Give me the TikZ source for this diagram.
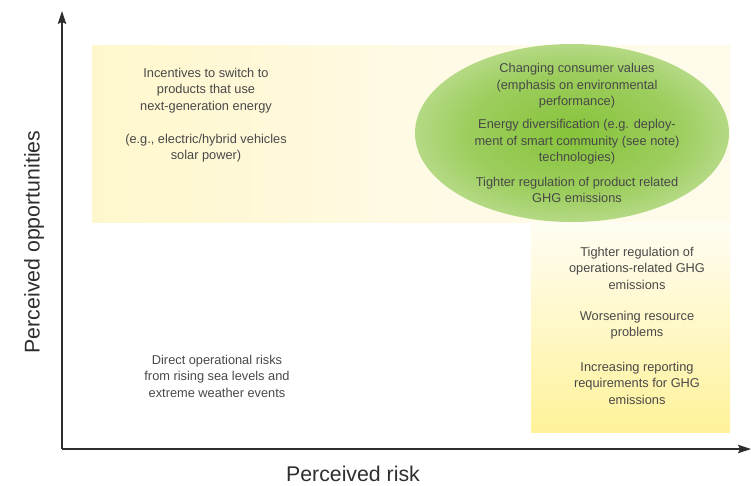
\documentclass[tikz,border=0pt]{standalone}
\usepackage{fontspec}
\setmainfont{Liberation Sans}
\usetikzlibrary{arrows.meta}

\definecolor{txtgray}{HTML}{484848}
\definecolor{axisgray}{HTML}{2E2E2E}
\definecolor{bandyellow}{HTML}{FFF29A}
\definecolor{bandmid}{HTML}{FFF7CC}
\definecolor{bandlight}{HTML}{FFFAE4}
\definecolor{bandpale}{HTML}{FFFDF3}
\definecolor{ellcore}{HTML}{86C33A}
\definecolor{ellinner}{HTML}{9DCE5E}
\definecolor{ellmid}{HTML}{C9E3A6}
\definecolor{ellrim}{HTML}{F7FAF0}

% soft green fill for the overlap ellipse
\pgfdeclareradialshading{ellgreen}{\pgfpoint{0bp}{0bp}}{%
  color(0bp)=(ellcore); color(17bp)=(ellinner); color(32bp)=(ellmid); color(50bp)=(ellrim)}
% yellow fading out to the right
\pgfdeclarehorizontalshading{bandfade}{100bp}{%
  color(0bp)=(bandyellow); color(25bp)=(bandmid); color(50bp)=(bandlight); color(100bp)=(bandpale)}

\tikzset{
  lbl/.style={font=\fontsize{12.8}{16.5}\selectfont, text=txtgray, align=center, inner sep=0pt},
  axislbl/.style={font=\fontsize{21.3}{24}\selectfont, text=axisgray, inner sep=0pt},
  axisline/.style={draw=axisgray, line width=1.2pt, -{Stealth[length=13pt,width=8.5pt,inset=2pt]}}
}

\begin{document}
\begin{tikzpicture}[x=1pt,y=-1pt]
\useasboundingbox (0,0) rectangle (751,485);

% opportunity band (horizontal) and risk band (vertical)
\shade[shading=bandfade] (92,45) rectangle (730,222);
\shade[top color=bandpale, bottom color=bandyellow] (531,222) rectangle (730,432);

% overlap region
\shade[shading=ellgreen] (572,133) ellipse [x radius=157, y radius=89];

% axes
\coordinate (origin) at (62,449);
\coordinate (ytip) at (62,11);
\coordinate (xtip) at (751,449);
\draw[axisline] (origin) -- (ytip);
\draw[axisline] (origin) -- (xtip);

\node[axislbl, rotate=90] (ylab) at (34,242) {Perceived opportunities};
\node[axislbl] (xlab) at (353,474) {Perceived risk};

% quadrant texts
\node[lbl] (incent) at (206,115) {Incentives to switch to\\products that use\\next-generation energy\\[16.5pt](e.g., electric/hybrid vehicles\\solar power)};

\node[lbl] (consumer) at (577,86) {Changing consumer values\\(emphasis on environmental\\performance)};
\node[lbl] (diversify) at (577,142) {Energy diversification (e.g. deploy-\\ment of smart community (see note)\\technologies)};
\node[lbl] (prodreg) at (577,190) {Tighter regulation of product related\\GHG emissions};

\node[lbl] (opsreg) at (637,268) {Tighter regulation of\\operations-related GHG\\emissions};
\node[lbl] (resource) at (637,325) {Worsening resource\\problems};
\node[lbl] (reporting) at (637,383) {Increasing reporting\\requirements for GHG\\emissions};

\node[lbl] (direct) at (217,376) {Direct operational risks\\from rising sea levels and\\extreme weather events};
\end{tikzpicture}
\end{document}
